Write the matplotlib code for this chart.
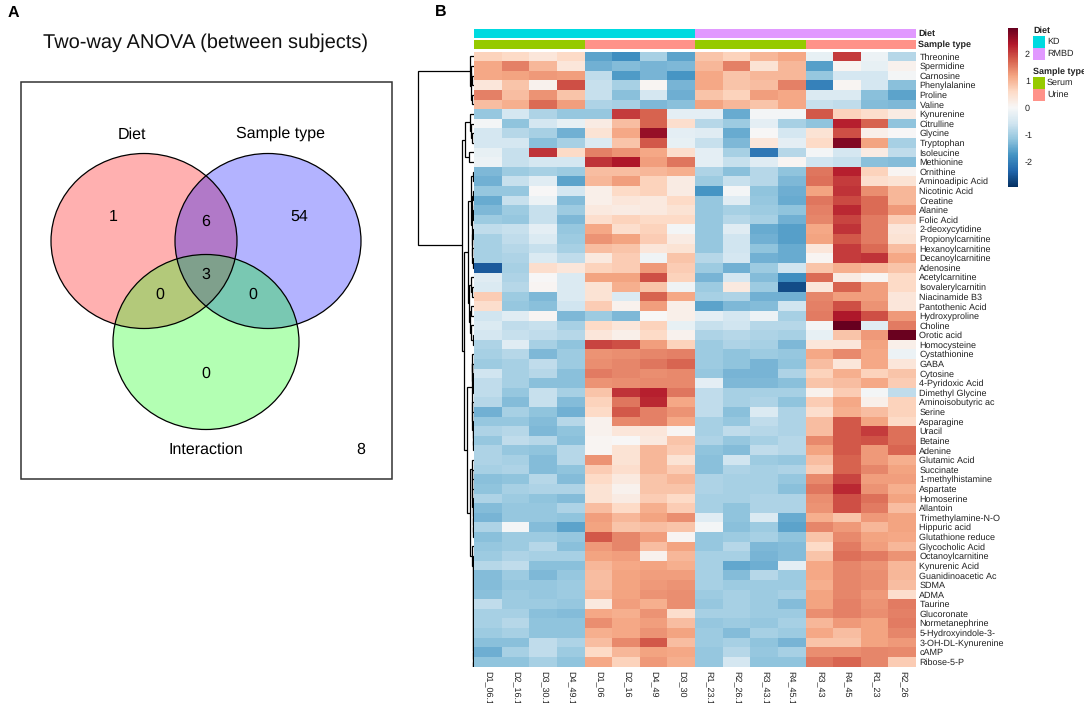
import numpy as np
import matplotlib
matplotlib.use("Agg")
import matplotlib.pyplot as plt
from matplotlib.colors import ListedColormap, Normalize
from matplotlib.patches import Ellipse, Polygon, Rectangle

plt.rcParams['font.family'] = ['Liberation Sans', 'DejaVu Sans']
plt.rcParams['text.hinting'] = 'no_hinting'
plt.rcParams['text.hinting_factor'] = 1

W, H = 1084, 703

# ---------- data ----------
samples = ["D1_06.1", "D2_16.1", "D3_30.1", "D4_49.1", "D1_06", "D2_16", "D4_49", "D3_30",
           "R1_23.1", "R2_26.1", "R3_43.1", "R4_45.1", "R3_43", "R4_45", "R1_23", "R2_26"]
diet = [0] * 8 + [1] * 8
sample_type = [0] * 4 + [1] * 4 + [0] * 4 + [1] * 4
diet_names = ["KD", "RMBD"]
type_names = ["Serum", "Urine"]
diet_colors = ["#00DAE0", "#E199FF"]
type_colors = ["#96CA00", "#FF9289"]

metabolites = ["Threonine", "Spermidine", "Carnosine", "Phenylalanine", "Proline", "Valine",
               "Kynurenine", "Citrulline", "Glycine", "Tryptophan", "Isoleucine", "Methionine",
               "Ornithine", "Aminoadipic Acid", "Nicotinic Acid", "Creatine", "Alanine", "Folic Acid",
               "2-deoxycytidine", "Propionylcarnitine", "Hexanoylcarnitine", "Decanoylcarnitine",
               "Adenosine", "Acetylcarnitine", "Isovalerylcarnitin", "Niacinamide B3", "Pantothenic Acid",
               "Hydroxyproline", "Choline", "Orotic acid", "Homocysteine", "Cystathionine", "GABA",
               "Cytosine", "4-Pyridoxic Acid", "Dimethyl Glycine", "Aminoisobutyric ac", "Serine",
               "Asparagine", "Uracil", "Betaine", "Adenine", "Glutamic Acid", "Succinate",
               "1-methylhistamine", "Aspartate", "Homoserine", "Allantoin", "Trimethylamine-N-O",
               "Hippuric acid", "Glutathione reduce", "Glycocholic Acid", "Octanoylcarnitine",
               "Kynurenic Acid", "Guanidinoacetic Ac", "SDMA", "ADMA", "Taurine", "Glucoronate",
               "Normetanephrine", "5-Hydroxyindole-3-", "3-OH-DL-Kynurenine", "cAMP", "Ribose-5-P"]

cluster_top = [
    [.5, .45, .3, .45, -1.3, -1.6, -.7, -1.3, .6, .5, .7, .8, -.2, 1.9, -.15, -.6],
    [.8, 1.2, .7, .3, -1.1, -.95, -1.05, -1.0, .7, 1.2, .35, .7, -1.35, .05, -.2, .1],
    [.8, .85, .95, .9, -.55, -1.4, -1.05, -1.5, .8, .6, .7, .7, -.8, -.4, -.4, -.05],
    [.3, .6, .1, 1.7, -.5, -.7, .05, -1.05, .8, .6, .65, 1.2, -1.8, .05, -.4, -.9],
    [1.2, .65, 1.0, .6, -.5, -.9, -.4, -1.15, .6, .5, .9, .8, -.35, -.35, -.9, -1.3],
    [.65, .75, 1.4, .9, -.65, -.7, -1.0, -.9, .85, .7, .6, .8, -.5, -.55, -.95, -1.0],
]
cluster_kyn = [
    [-.8, -.4, -.65, -.8, -.8, 1.9, 1.5, -.25, -.25, -1.2, -.05, -.05, 1.6, .5, .4, .2],
    [-.05, -.85, -.4, -.2, .2, .65, 1.5, .4, -.6, -.75, -.25, -.7, -.85, 2.2, 1.5, -.85],
    [-.4, -.6, -.7, -1.1, .35, .8, 2.5, -.25, -.3, -1.2, 0, -.4, .35, 1.7, .15, 0],
    [-.4, -.4, -.9, -.7, -.35, .6, 1.6, -.2, -.5, -1.0, .3, -.25, .45, 2.7, .85, -.7],
    [-.2, -.5, 2.0, .45, 1.2, 1.0, .8, .4, -.25, -.7, -2.0, -.6, -.05, -.4, .2, -.55],
    [-.15, -.5, -.4, -.4, 2.0, 2.3, .9, 1.3, -.25, -.5, -.3, .05, -.45, -.5, -.9, -.95],
]
cluster_orn = [
    [-1.0, -.75, -.7, -.75, .65, .65, .7, .75, -.65, -.9, -.6, -.85, 1.3, 2.2, .5, .05],
    [-1.1, -.5, -.3, -1.3, .7, .9, .5, .2, -.75, -.5, -.6, -1.0, 1.35, 1.9, .4, .35],
    [-.8, -.8, 0, -.4, .15, .45, .5, .2, -1.5, -.05, -.85, -1.15, .85, 2.0, 1.05, .7],
    [-1.2, -.5, -.15, -.95, .15, .3, .25, .45, -.8, -.3, -.8, -1.2, 1.3, 1.75, 1.4, .7],
    [-1.0, -.75, -.5, -.75, .25, .2, .25, .35, -.8, -.7, -.75, -.85, 1.2, 2.1, 1.4, .95],
    [-.75, -.8, -.5, -1.0, .4, .5, .45, .45, -.8, -.6, -.7, -1.1, 1.15, 1.8, 1.25, .55],
    [-.55, -.5, -.25, -.8, .8, .4, .5, -.05, -.8, -.3, -1.2, -1.35, .8, 2.0, 1.25, .3],
    [-.7, -.55, -.35, -.75, 1.0, .85, .55, .2, -.8, -.45, -1.1, -1.35, .85, 1.6, 1.25, .35],
    [-.7, -.6, -.5, -.7, .65, .6, .3, .35, -.8, -.45, -.85, -1.2, .3, 1.9, 1.4, .65],
    [-.7, -.65, -.35, -.55, .25, .55, -.1, .6, -.6, -.4, -1.1, -1.2, .05, 1.9, 2.0, .8],
]
cluster_ade = [
    [-2.4, -.7, .4, .3, .5, .55, .95, .55, -.75, -1.1, -.75, -.45, .6, .75, .7, .6],
    [-.3, -.65, 0, -.35, .85, .85, 1.7, .5, -1.05, -.4, -.95, -1.6, 1.4, .2, .05, .45],
    [-.35, -.6, .05, -.35, .35, .75, .6, -.1, -.75, .25, -.75, -2.6, .3, 1.5, .9, .45],
    [.55, -.75, -1.0, -.35, .35, -.35, 1.5, .8, -.7, -.65, -1.1, -1.1, 1.15, .9, .9, .3],
    [.4, -.8, -.9, -.45, .55, .1, .9, .15, -1.3, -1.0, -.95, -.45, 1.2, 1.7, 1.0, .3],
    [-.45, -.3, .05, -1.0, -.75, -1.0, 0, .15, -.25, -.4, -.15, -.7, 1.25, 2.3, 1.7, .95],
    [-.35, -.55, -.5, -.7, .45, .3, .5, -.2, -.5, -.45, -.6, -.6, -.05, 3.0, -.3, 1.25],
    [-.4, -.5, -.55, -.6, .3, .15, .45, .1, -.65, -.6, -.65, -.7, -.2, .6, .95, 2.9],
]
cluster_hcy = [
    [-.65, -.3, -.7, -.85, 1.8, 1.7, .9, .5, -.75, -.65, -.7, -1.0, .3, .3, .85, .15],
    [-.7, -.6, -1.0, -.75, 1.0, 1.05, 1.15, 1.2, -.75, -.85, -.75, -.8, .8, 1.1, .8, -.15],
    [-.75, -.7, -.55, -.75, 1.05, 1.15, 1.3, 1.45, -.75, -.85, -1.05, -.85, .65, .3, .8, .3],
    [-.45, -.7, -.6, -.9, 1.25, 1.15, 1.05, 1.1, -.8, -1.05, -1.05, -.65, .5, .75, .5, .6],
    [-.55, -.7, -.9, -.9, 1.0, 1.05, 1.1, 1.1, -.25, -1.0, -1.0, -.9, .6, .65, .8, .55],
    [-.55, -.8, -.5, -.7, .6, 2.0, 2.2, 1.3, -.55, -.7, -.7, -.7, .1, .55, -.05, -.55],
    [-.6, -.95, -.5, -.95, .5, 1.3, 2.1, .8, -.55, -.7, -.65, -.85, .55, .8, .15, .5],
    [-1.1, -.7, -.85, -1.1, .45, 1.6, 1.2, 1.0, -.55, -.9, -.35, -.65, .4, .75, .65, .5],
    [-.8, -.8, -.95, -.6, .1, 1.1, 1.2, .8, -.7, -.8, -.55, -.65, .65, 1.6, .85, .45],
    [-.65, -.6, -1.0, -.85, .1, .3, .3, .05, -.7, -.55, -.6, -.65, .65, 1.6, 1.9, 1.35],
    [-.8, -.55, -.6, -.9, .05, 0, .25, .6, -.65, -.8, -.7, -.6, 1.1, 1.6, 1.65, 1.35],
    [-.65, -.8, -.85, -.6, .05, .35, .7, .55, -.85, -.95, -.55, -.6, .85, 1.6, .95, 1.45],
    [-.65, -.7, -.95, -.6, 1.0, .35, .7, .35, -.9, -.45, -.75, -.8, .65, 1.5, .95, .75],
]
cluster_suc = [
    [-.7, -.65, -.95, -.85, .55, .4, .7, .55, -.9, -.65, -.7, -.65, .55, 1.5, 1.15, .85],
    [-.9, -.85, -.6, -.95, .45, .25, .6, .7, -.65, -.7, -.7, -.8, 1.1, 1.8, .9, .9],
    [-.85, -.7, -.65, -.65, .35, .1, .6, .6, -.65, -.7, -.7, -.9, 1.3, 2.1, 1.0, .75],
    [-.65, -.75, -.85, -.95, .35, .2, .55, .45, -.7, -.7, -.65, -.65, 1.05, 1.7, 1.35, .85],
    [-.95, -.8, -.8, -.65, .65, .45, .75, .55, -.7, -.85, -.65, -.65, 1.0, 1.7, 1.25, .65],
    [-1.05, -.8, -.8, -.85, .9, .7, .85, 1.05, -.3, -.85, -.35, -1.2, .75, .6, .95, .85],
    [-.65, -.05, -.95, -1.3, .85, .6, .65, .6, -.05, -.9, -.75, -1.3, 1.15, .95, .7, .85],
]
cluster_glu = [
    [-.9, -.75, -.75, -.8, 1.6, 1.15, .9, .05, -.8, -.75, -.7, -.85, .6, 1.1, .85, .8],
    [-.8, -.75, -.6, -.9, .95, 1.15, .65, .85, -.8, -.6, -1.0, -.95, .45, 1.25, .9, .7],
    [-.75, -.65, -.7, -.7, .85, .9, .1, .7, -.7, -.7, -1.05, -.95, .6, 1.35, 1.25, 1.0],
    [-.6, -.55, -.9, -.9, .7, .8, .85, .75, -.7, -1.25, -1.15, -.25, .8, 1.15, 1.0, .7],
    [-.95, -.75, -1.0, -.8, .65, .85, .9, .9, -.7, -.95, -.6, -.75, .8, 1.15, 1.05, .7],
    [-.95, -.8, -.8, -.75, .65, .85, .95, 1.0, -.7, -.75, -.75, -.75, .75, 1.15, 1.05, .65],
    [-.9, -.75, -.8, -.75, .7, .85, 1.0, 1.05, -.75, -.7, -.75, -.7, .85, 1.15, .95, .4],
    [-.55, -.75, -.75, -.8, .25, .9, .75, 1.05, -.8, -.7, -.75, -.95, .85, 1.2, 1.0, 1.25],
    [-.7, -.7, -.9, -.95, .8, .75, 1.0, .4, -.7, -.7, -.75, -.75, 1.05, 1.2, 1.05, 1.2],
    [-.7, -.6, -.85, -.85, 1.05, .8, .9, .65, -.8, -.75, -.8, -.7, .7, .95, .85, 1.25],
    [-.75, -.7, -.85, -.85, .75, .8, 1.0, .85, -.75, -.95, -.7, -.75, .8, .65, .85, 1.15],
    [-.9, -.9, -.55, -.65, .65, 1.1, 1.6, .65, -.75, -.7, -.85, -1.05, .6, .6, .85, .95],
    [-1.15, -.7, -.55, -.75, .45, .7, .85, .8, -.8, -.6, -.8, -.7, 1.05, 1.05, 1.15, 1.1],
    [-.85, -.85, -.7, -.85, .8, .5, .95, .75, -.8, -.4, -.85, -.85, 1.3, 1.45, 1.15, .55],
]
# colour-reading correction: shade readings above -> colour-bar values
reading_scale = [0, .3, .8, 1.5, 2.2, 3.0]
colorbar_scale = [0, .35, 1.15, 1.75, 2.3, 3.0]

venn_sets = ["Diet", "Sample type", "Interaction"]
venn_title = "Two-way ANOVA (between subjects)"
only_diet, only_type, only_inter = 1, 54, 0
diet_type, diet_inter, type_inter, all_three, outside = 6, 0, 0, 3, 8


# ---------- dendrogram tree: [height, left, right], 0 = leaf ----------
def chain(heights):
    node = [heights[-1], 0, 0]
    for h in reversed(heights[:-1]):
        node = [h, 0, node]
    return node


tree_top = [4.5, 0, [3.5, [3, 0, [2, 0, 0]], [2.5, 0, 0]]]
tree_kyn = [9, [4, 0, [3.5, 0, [2.5, 0, 0]]], [5, 0, 0]]
tree_orn = [3, [1.5, 0, 0], [2.5, [2, [1, 0, 0], [1, 0, 0]], [2, [1.2, 0, 0], [2, 0, [1.2, 0, 0]]]]]
tree_ade = [5, [3.5, 0, [2.5, 0, 0]], [4.5, [3, 0, 0], [3, 0, [1.5, 0, 0]]]]
tree_hcy = [2.5, chain([2.2, 1.8, 1.5, 1.2]), chain([2.2, 2, 1.5, 1.2, 1])]
tree_low = [4.5, chain([2.5, 2.5, 2, 2, 1.5, 1.5, 1.2, 1]),
            chain([1.6, 1.5, 1.4, 1.3, 1.2, 1.2, 1, 1, 1, .9, .9, .8, .8])]
tree_all = [56, tree_top,
            [12.5, tree_kyn,
             [10.3, [6, tree_orn, tree_ade], [7, tree_hcy, tree_low]]]]


def layout(node, row, segs):
    if node == 0:
        row[0] += 1
        return row[0] - 0.5, 0.0
    h, l, r = node
    yl, hl = layout(l, row, segs)
    yr, hr = layout(r, row, segs)
    segs.append(([hl, h, h, hr], [yl, yl, yr, yr]))
    return (yl + yr) / 2, h


# ---------- figure ----------
fig = plt.figure(figsize=(W / 100, H / 100), dpi=100, facecolor="white")


def px_axes(x0, y0, x1, y1):
    return fig.add_axes([x0 / W, 1 - y1 / H, (x1 - x0) / W, (y1 - y0) / H])


overlay = fig.add_axes([0, 0, 1, 1])
overlay.set_xlim(0, W)
overlay.set_ylim(H, 0)
overlay.axis("off")

overlay.text(13, 12.5, "A", fontsize=11.5, fontweight="bold", ha="center", va="center")
overlay.text(441, 12, "B", fontsize=11.5, fontweight="bold", ha="center", va="center")

# ---------- panel A ----------
overlay.add_patch(Rectangle((20.5, 82), 371.5, 397, fc="none", ec="#333333", lw=1.1))
ells = {"r": (144, 241), "b": (268, 241), "g": (206, 342)}
RX, RY = 93, 87.5
fills = {"r": "#FFB0B0", "b": "#B3B3FF", "g": "#B3FFB3",
         "rb": "#B179C8", "rg": "#B3C97A", "bg": "#79C8B2", "rbg": "#7FA08C"}


def inside(p, key):
    cx, cy = ells[key]
    return ((p[:, 0] - cx) / RX) ** 2 + ((p[:, 1] - cy) / RY) ** 2 <= 1 + 1e-9


def region(keys):
    t = np.linspace(0, 2 * np.pi, 1440, endpoint=False)
    pts = []
    for k in keys:
        cx, cy = ells[k]
        b = np.c_[cx + RX * np.cos(t), cy + RY * np.sin(t)]
        keep = np.ones(len(b), bool)
        for o in keys:
            if o != k:
                keep &= inside(b, o)
        pts.append(b[keep])
    pts = np.vstack(pts)
    c = pts.mean(axis=0)
    return pts[np.argsort(np.arctan2(pts[:, 1] - c[1], pts[:, 0] - c[0]))]


for k in ["r", "b", "g"]:
    overlay.add_patch(Ellipse(ells[k], 2 * RX, 2 * RY, fc=fills[k], ec="none"))
for keys in ["rb", "rg", "bg", "rbg"]:
    overlay.add_patch(Polygon(region(keys), closed=True, fc=fills[keys], ec="none"))
for k in ["r", "b", "g"]:
    overlay.add_patch(Ellipse(ells[k], 2 * RX, 2 * RY, fc="none", ec="black", lw=0.9))

overlay.text(206, 43, venn_title, fontsize=14.5, ha="center", va="center", color="#111111")
fs = 11.2
overlay.text(132, 135, venn_sets[0], fontsize=fs, ha="center", va="center")
overlay.text(280, 133.5, venn_sets[1], fontsize=fs, ha="center", va="center")
overlay.text(206, 450, venn_sets[2], fontsize=fs, ha="center", va="center")
for (x, y, v) in [(113, 216.5, only_diet), (206, 222, diet_type), (299, 216.5, only_type),
                  (206, 274.5, all_three), (159.5, 295, diet_inter), (252.5, 295, type_inter),
                  (206, 374, only_inter), (361, 450, outside)]:
    overlay.text(x, y, str(v), fontsize=fs, ha="center", va="center")

# ---------- panel B ----------
values = np.array(cluster_top + cluster_kyn + cluster_orn + cluster_ade
                  + cluster_hcy + cluster_suc + cluster_glu, dtype=float)
values = np.sign(values) * np.interp(np.abs(values), reading_scale, colorbar_scale)
n_rows, n_cols = values.shape
cmap = plt.get_cmap("RdBu_r")
norm = Normalize(-2.95, 2.95)
HX0, HX1, HY0, HY1 = 474, 916, 51.5, 666.5

ax = px_axes(HX0, HY0, HX1, HY1)
ax.pcolormesh(np.arange(n_cols + 1), np.arange(n_rows + 1), values, cmap=cmap, norm=norm, linewidth=0)
ax.set_xlim(0, n_cols)
ax.set_ylim(n_rows, 0)
ax.yaxis.tick_right()
ax.set_yticks(np.arange(n_rows) + 0.5, metabolites, fontsize=6.15, color="#222222")
ax.set_xticks(np.arange(n_cols) + 0.5, samples, fontsize=6.6, rotation=270, color="#222222")
ax.tick_params(axis="both", length=0)
ax.tick_params(axis="y", pad=2.5)
ax.tick_params(axis="x", pad=3)
for s in ax.spines.values():
    s.set_visible(False)

for (y0, y1, vals, cols, name) in [(29, 38, diet, diet_colors, "Diet"),
                                   (40, 49, sample_type, type_colors, "Sample type")]:
    a = px_axes(HX0, y0, HX1, y1)
    a.pcolormesh(np.arange(n_cols + 1), [0, 1], np.array([vals]), cmap=ListedColormap(cols), vmin=0, vmax=1)
    a.axis("off")
    overlay.text(918.5, (y0 + y1) / 2, name, fontsize=6.3, fontweight="bold", ha="left", va="center", color="#222222")

# dendrogram
ax_d = px_axes(417, HY0, HX0, HY1)
segments = []
layout(tree_all, [0], segments)
for xs, ys in segments:
    ax_d.plot(xs, ys, color="black", lw=0.9, solid_joinstyle="miter", solid_capstyle="butt")
ax_d.set_xlim(57, 0)
ax_d.set_ylim(n_rows, 0)
ax_d.axis("off")

# colour bar
cax = px_axes(1008, 28, 1018, 187)
cb = fig.colorbar(plt.cm.ScalarMappable(norm=norm, cmap=cmap), cax=cax, ticks=[-2, -1, 0, 1, 2])
cb.outline.set_visible(False)
cb.ax.tick_params(length=0, labelsize=6.3, pad=5, labelcolor="#222222")
cb.ax.set_yticklabels(["-2", "-1", "0", "1", "2"])


# annotation legend
def legend_block(title, title_y, names, cols):
    overlay.text(1033, title_y, title, fontsize=6.3, fontweight="bold", ha="left", va="center", color="#222222")
    for i, (n, c) in enumerate(zip(names, cols)):
        y = title_y + 5 + i * 12
        overlay.add_patch(Rectangle((1033, y), 11.5, 12, fc=c, ec="none"))
        overlay.text(1047, y + 6, n, fontsize=6.3, ha="left", va="center", color="#222222")


legend_block("Diet", 31, diet_names, diet_colors)
legend_block("Sample type", 72, type_names, type_colors)

fig.savefig("out.png", dpi=100, facecolor="white")
